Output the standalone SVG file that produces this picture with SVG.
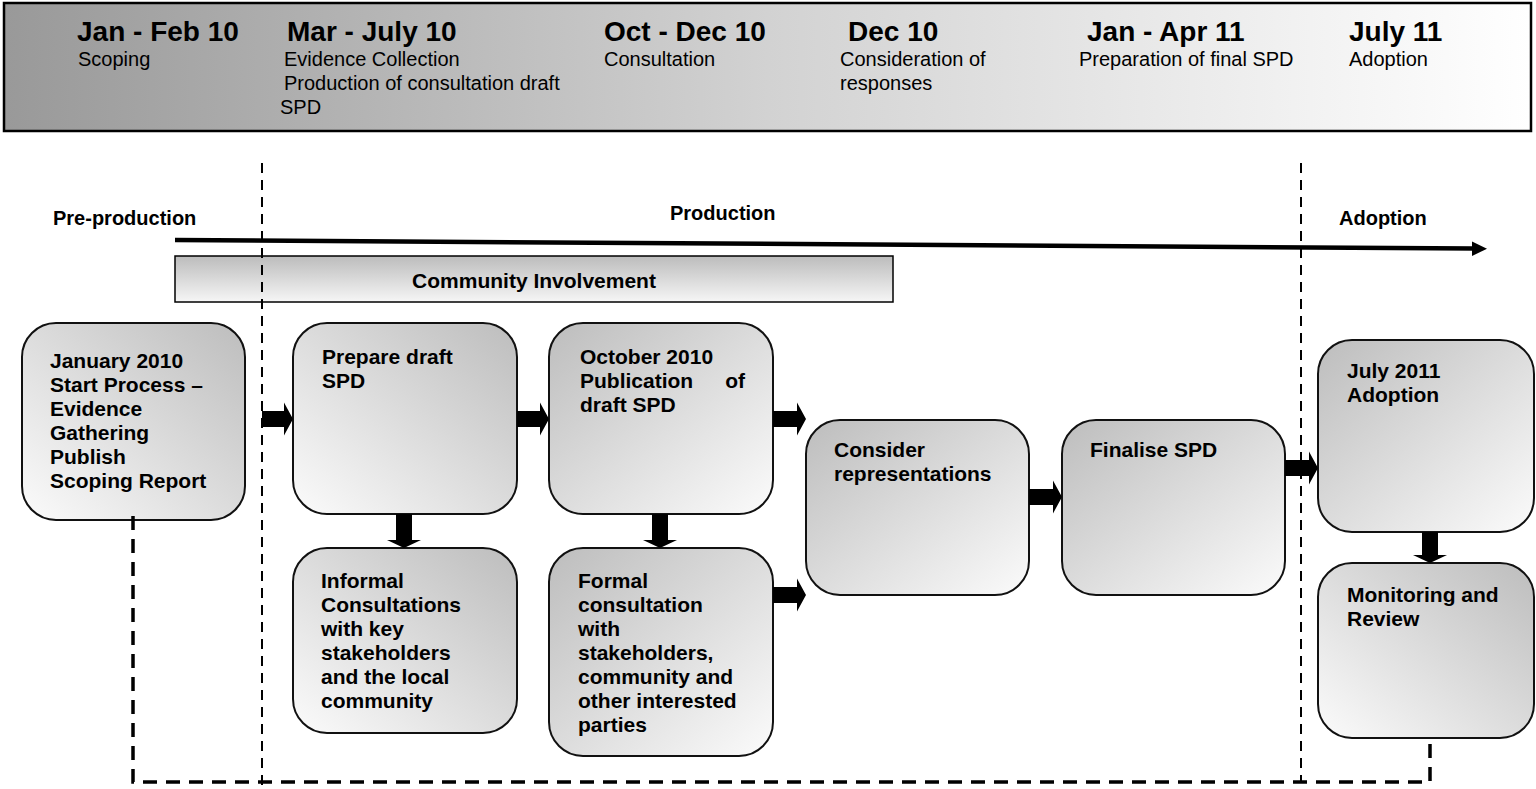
<svg xmlns="http://www.w3.org/2000/svg" width="1536" height="789" viewBox="0 0 1536 789">
  <defs>
    <linearGradient id="hdrGrad" x1="0" y1="0" x2="1" y2="0">
      <stop offset="0" stop-color="#999999"/>
      <stop offset="0.5" stop-color="#d2d2d2"/>
      <stop offset="1" stop-color="#ffffff"/>
    </linearGradient>
    <linearGradient id="barGrad" x1="0" y1="0" x2="0" y2="1">
      <stop offset="0" stop-color="#bcbcbc"/>
      <stop offset="1" stop-color="#f6f6f6"/>
    </linearGradient>
    <!-- dark corner top-left, fading to bottom-right -->
    <linearGradient id="gTL" x1="0" y1="0" x2="1" y2="1">
      <stop offset="0" stop-color="#bdbdbd"/>
      <stop offset="1" stop-color="#fbfbfb"/>
    </linearGradient>
    <!-- dark corner top-right, fading to bottom-left -->
    <linearGradient id="gTR" x1="1" y1="0" x2="0" y2="1">
      <stop offset="0" stop-color="#bdbdbd"/>
      <stop offset="1" stop-color="#fbfbfb"/>
    </linearGradient>
    <style>
      .date { font-family: "Liberation Sans", Arial, sans-serif; font-size: 28px; font-weight: bold; fill: #000; }
      .sub { font-family: "Liberation Sans", Arial, sans-serif; font-size: 20px; fill: #000; }
      .phase { font-family: "Liberation Sans", Arial, sans-serif; font-size: 20px; font-weight: bold; fill: #000; }
      .lbl { font-family: "Liberation Sans", Arial, sans-serif; font-size: 21px; font-weight: bold; fill: #000; }
      .box { stroke: #111; stroke-width: 2; }
      .thin { fill: none; stroke: #000; stroke-width: 2; stroke-dasharray: 10 7; }
      .thick { fill: none; stroke: #000; stroke-width: 3.5; stroke-dasharray: 14 9; }
      .blk { fill: #000; }
    </style>
  </defs>

  <rect width="1536" height="789" fill="#ffffff"/>

  <!-- timetable header -->
  <g id="timetable">
    <rect x="4" y="3" width="1527" height="128" fill="url(#hdrGrad)" stroke="#000" stroke-width="2.5"/>
    <text class="date" x="77" y="41">Jan - Feb 10</text>
    <text class="sub" x="78" y="66">Scoping</text>
    <text class="date" x="287" y="41">Mar - July 10</text>
    <text class="sub" x="284" y="66">Evidence Collection</text>
    <text class="sub" x="284" y="90">Production of consultation draft</text>
    <text class="sub" x="280" y="114">SPD</text>
    <text class="date" x="604" y="41">Oct - Dec 10</text>
    <text class="sub" x="604" y="66">Consultation</text>
    <text class="date" x="848" y="41">Dec 10</text>
    <text class="sub" x="840" y="66">Consideration of</text>
    <text class="sub" x="840" y="90">responses</text>
    <text class="date" x="1087" y="41">Jan - Apr 11</text>
    <text class="sub" x="1079" y="66">Preparation of final SPD</text>
    <text class="date" x="1349" y="41">July 11</text>
    <text class="sub" x="1349" y="66">Adoption</text>
  </g>

  <!-- stage labels -->
  <g id="stages">
    <text class="phase" x="53" y="225">Pre-production</text>
    <text class="phase" x="670" y="220">Production</text>
    <text class="phase" x="1339" y="225">Adoption</text>
  </g>

  <!-- community involvement bar -->
  <g id="community">
    <rect x="175" y="256" width="718" height="46" fill="url(#barGrad)" stroke="#000" stroke-width="1.5"/>
    <text class="lbl" x="534" y="288" text-anchor="middle" font-size="23">Community Involvement</text>
  </g>

  <!-- process boxes -->
  <g id="start">
    <rect class="box" x="22" y="323" width="223" height="197" rx="34" fill="url(#gTR)"/>
    <text class="lbl" x="50" y="368">January 2010</text>
    <text class="lbl" x="50" y="392">Start Process –</text>
    <text class="lbl" x="50" y="416">Evidence</text>
    <text class="lbl" x="50" y="440">Gathering</text>
    <text class="lbl" x="50" y="464">Publish</text>
    <text class="lbl" x="50" y="488">Scoping Report</text>
  </g>
  <g id="prepare">
    <rect class="box" x="293" y="323" width="224" height="191" rx="34" fill="url(#gTR)"/>
    <text class="lbl" x="322" y="364">Prepare draft</text>
    <text class="lbl" x="322" y="388">SPD</text>
  </g>
  <g id="publication">
    <rect class="box" x="549" y="323" width="224" height="191" rx="34" fill="url(#gTL)"/>
    <text class="lbl" x="580" y="364">October 2010</text>
    <text class="lbl" x="580" y="388">Publication</text>
    <text class="lbl" x="745" y="388" text-anchor="end">of</text>
    <text class="lbl" x="580" y="412">draft SPD</text>
  </g>
  <g id="informal">
    <rect class="box" x="293" y="548" width="224" height="185" rx="34" fill="url(#gTR)"/>
    <text class="lbl" x="321" y="588">Informal</text>
    <text class="lbl" x="321" y="612">Consultations</text>
    <text class="lbl" x="321" y="636">with key</text>
    <text class="lbl" x="321" y="660">stakeholders</text>
    <text class="lbl" x="321" y="684">and the local</text>
    <text class="lbl" x="321" y="708">community</text>
  </g>
  <g id="formal">
    <rect class="box" x="549" y="548" width="224" height="208" rx="34" fill="url(#gTL)"/>
    <text class="lbl" x="578" y="588">Formal</text>
    <text class="lbl" x="578" y="612">consultation</text>
    <text class="lbl" x="578" y="636">with</text>
    <text class="lbl" x="578" y="660">stakeholders,</text>
    <text class="lbl" x="578" y="684">community and</text>
    <text class="lbl" x="578" y="708">other interested</text>
    <text class="lbl" x="578" y="732">parties</text>
  </g>
  <g id="consider">
    <rect class="box" x="806" y="420" width="223" height="175" rx="34" fill="url(#gTL)"/>
    <text class="lbl" x="834" y="457">Consider</text>
    <text class="lbl" x="834" y="481">representations</text>
  </g>
  <g id="finalise">
    <rect class="box" x="1062" y="420" width="223" height="175" rx="34" fill="url(#gTL)"/>
    <text class="lbl" x="1090" y="457">Finalise SPD</text>
  </g>
  <g id="adoption">
    <rect class="box" x="1318" y="340" width="216" height="192" rx="34" fill="url(#gTL)"/>
    <text class="lbl" x="1347" y="378">July 2011</text>
    <text class="lbl" x="1347" y="402">Adoption</text>
  </g>
  <g id="monitoring">
    <rect class="box" x="1318" y="563" width="216" height="175" rx="34" fill="url(#gTR)"/>
    <text class="lbl" x="1347" y="602">Monitoring and</text>
    <text class="lbl" x="1347" y="626">Review</text>
  </g>

  <!-- stage dividers, timeline and flow arrows -->
  <g id="connectors">
    <line class="thin" x1="262" y1="163" x2="262" y2="789"/>
    <line class="thin" x1="1301" y1="163" x2="1301" y2="782"/>
    <path class="thick" d="M133,516 V782 H1430 V740"/>

    <line x1="175" y1="240" x2="1474" y2="248.5" stroke="#000" stroke-width="4.5"/>
    <polygon class="blk" points="1472,241.5 1487,248.8 1472,256"/>

    <!-- right-pointing block arrows -->
    <path class="blk" d="M262,411 H284 V402.5 L293,419 L284,435.5 V427 H262 Z"/>
    <path class="blk" d="M517,411 H540 V402.5 L549,419 L540,435.5 V427 H517 Z"/>
    <path class="blk" d="M773,411 H797 V402.5 L806,419 L797,435.5 V427 H773 Z"/>
    <path class="blk" d="M773,587 H797 V578.5 L806,595 L797,611.5 V603 H773 Z"/>
    <path class="blk" d="M1029,489 H1053 V480.5 L1062,497 L1053,513.5 V505 H1029 Z"/>
    <path class="blk" d="M1285,460 H1309 V451.5 L1318,468 L1309,484.5 V476 H1285 Z"/>

    <!-- down-pointing block arrows -->
    <path class="blk" d="M396,514 V540 H387 L404,548 L421,540 H412 V514 Z"/>
    <path class="blk" d="M652,514 V540 H643 L660,548 L677,540 H668 V514 Z"/>
    <path class="blk" d="M1422,532 V555 H1413 L1430,563 L1447,555 H1438 V532 Z"/>
  </g>
</svg>
